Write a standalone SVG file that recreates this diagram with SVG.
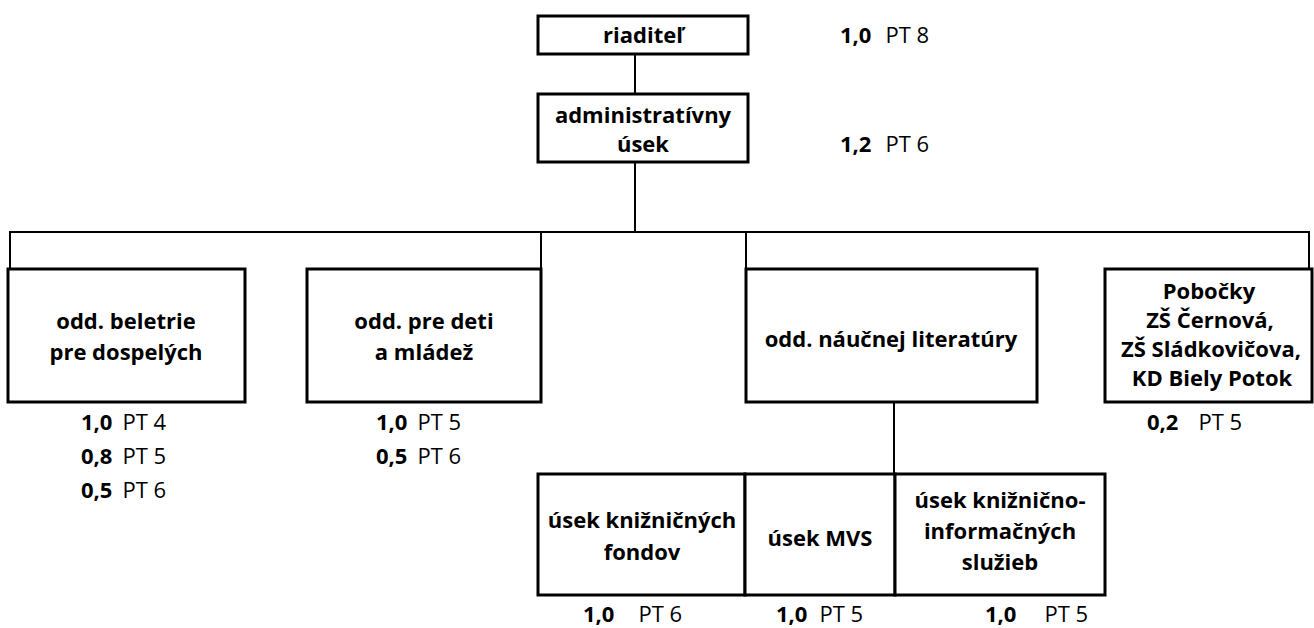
<svg xmlns="http://www.w3.org/2000/svg" width="1314" height="628" viewBox="0 0 1314 628">
<style>
.box{fill:#fff;stroke:#000;stroke-width:3}
.ln{stroke:#000;stroke-width:2;fill:none}
text{font-family:"Open Sans","Liberation Sans",sans-serif;font-size:22px;fill:#000}
.t{font-weight:bold;text-anchor:middle}
.b{font-weight:bold}
</style>
<rect width="1314" height="628" fill="#fff"/>
<g id="connectors">
<line class="ln" x1="635" y1="54" x2="635" y2="94"/>
<line class="ln" x1="635" y1="162" x2="635" y2="232"/>
<line class="ln" x1="9" y1="232" x2="1310" y2="232"/>
<line class="ln" x1="10" y1="232" x2="10" y2="269"/>
<line class="ln" x1="541" y1="232" x2="541" y2="269"/>
<line class="ln" x1="746" y1="232" x2="746" y2="269"/>
<line class="ln" x1="1309" y1="232" x2="1309" y2="269"/>
<line class="ln" x1="894" y1="402" x2="894" y2="474"/>
</g>
<g id="riaditel">
<rect class="box" x="538" y="16" width="210" height="38"/>
<text class="t" x="643" y="43">riaditeľ</text>
<text x="840" y="43"><tspan class="b">1,0</tspan><tspan dx="14">PT 8</tspan></text>
</g>
<g id="admin">
<rect class="box" x="538" y="94" width="210" height="68"/>
<text class="t" x="643" y="123">administratívny</text>
<text class="t" x="643" y="152">úsek</text>
<text x="840" y="152"><tspan class="b">1,2</tspan><tspan dx="14">PT 6</tspan></text>
</g>
<g id="beletria">
<rect class="box" x="8" y="269" width="237" height="133"/>
<text class="t" x="126" y="329">odd. beletrie</text>
<text class="t" x="126" y="360">pre dospelých</text>
<text x="81" y="430"><tspan class="b">1,0</tspan><tspan dx="10">PT 4</tspan></text>
<text x="81" y="464"><tspan class="b">0,8</tspan><tspan dx="10">PT 5</tspan></text>
<text x="81" y="498"><tspan class="b">0,5</tspan><tspan dx="10">PT 6</tspan></text>
</g>
<g id="deti">
<rect class="box" x="307" y="269" width="234" height="133"/>
<text class="t" x="424" y="329">odd. pre deti</text>
<text class="t" x="424" y="360">a mládež</text>
<text x="376" y="430"><tspan class="b">1,0</tspan><tspan dx="10">PT 5</tspan></text>
<text x="376" y="464"><tspan class="b">0,5</tspan><tspan dx="10">PT 6</tspan></text>
</g>
<g id="naucna">
<rect class="box" x="746" y="269" width="291" height="133"/>
<text class="t" x="891" y="347">odd. náučnej literatúry</text>
</g>
<g id="pobocky">
<rect class="box" x="1105" y="269" width="207" height="133"/>
<text class="t" x="1209" y="299">Pobočky</text>
<text class="t" x="1210" y="328">ZŠ Černová,</text>
<text class="t" x="1211" y="357">ZŠ Sládkovičova,</text>
<text class="t" x="1212" y="386">KD Biely Potok</text>
<text x="1147" y="430"><tspan class="b">0,2</tspan><tspan dx="20">PT 5</tspan></text>
</g>
<g id="fondy">
<rect class="box" x="538" y="474" width="207" height="121"/>
<text class="t" x="642" y="528">úsek knižničných</text>
<text class="t" x="642" y="560">fondov</text>
<text x="583" y="622"><tspan class="b">1,0</tspan><tspan dx="24">PT 6</tspan></text>
</g>
<g id="mvs">
<rect class="box" x="745" y="474" width="150" height="121"/>
<text class="t" x="820" y="546">úsek MVS</text>
<text x="776" y="622"><tspan class="b">1,0</tspan><tspan dx="12">PT 5</tspan></text>
</g>
<g id="kis">
<rect class="box" x="895" y="474" width="210" height="121"/>
<text class="t" x="1000" y="508">úsek knižnično-</text>
<text class="t" x="1000" y="539">informačných</text>
<text class="t" x="1000" y="570">služieb</text>
<text x="985" y="622"><tspan class="b">1,0</tspan><tspan dx="28">PT 5</tspan></text>
</g>
</svg>
